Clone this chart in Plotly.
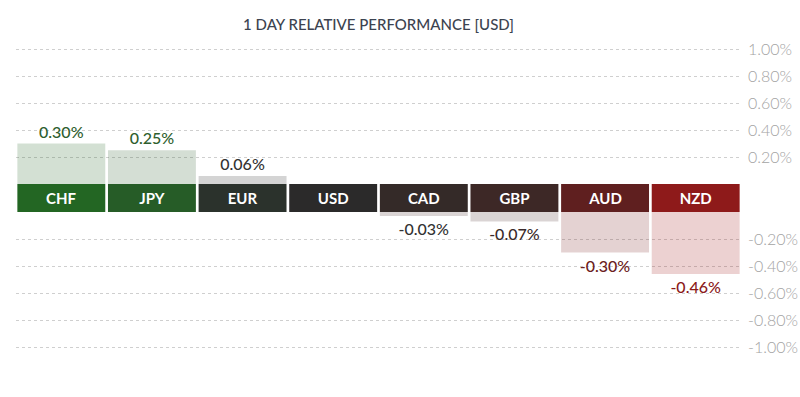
import plotly.graph_objects as go

currencies = ["CHF", "JPY", "EUR", "USD", "CAD", "GBP", "AUD", "NZD"]
changes = [0.30, 0.25, 0.06, 0.00, -0.03, -0.07, -0.30, -0.46]
value_labels = ["0.30%", "0.25%", "0.06%", "", "-0.03%", "-0.07%", "-0.30%", "-0.46%"]
band_colors = ["#236623", "#265c27", "#2b322c", "#2b2a2a", "#342a28", "#3d2826", "#5f1f1f", "#8e1a1a"]
bar_colors = ["rgba(35,102,35,0.2)", "rgba(38,92,39,0.2)", "rgba(60,60,60,0.22)", "rgba(43,42,42,0.2)",
              "rgba(70,40,40,0.2)", "rgba(70,40,38,0.2)", "rgba(120,30,30,0.2)", "rgba(160,26,26,0.2)"]
label_colors = ["#2e5e2e", "#2e5e2e", "#333333", "#333333", "#333333", "#3a2a2a", "#6b2020", "#8b1a1a"]
pos_ticks = [0.2, 0.4, 0.6, 0.8, 1.0]
pos_tick_text = ["0.20%", "0.40%", "0.60%", "0.80%", "1.00%"]
neg_ticks = [-0.2, -0.4, -0.6, -0.8, -1.0]
neg_tick_text = ["-0.20%", "-0.40%", "-0.60%", "-0.80%", "-1.00%"]

pos_vals = [v if v > 0 else 0 for v in changes]
neg_vals = [v if v < 0 else 0 for v in changes]
pos_text = [t if v > 0 else "" for v, t in zip(changes, value_labels)]
neg_text = [t if v < 0 else "" for v, t in zip(changes, value_labels)]

W, H = 800, 397
ml, mr, mt, mb = 16, 59, 46, 47
ph = H - mt - mb
zero_top = 184
zero_bot = 212
d_top = (H - mb - zero_top) / ph
d_bot = (H - mb - zero_bot) / ph
# pixels per 1.00% on each half is 135; extra room so edge gridlines show
top_max = (zero_top - mt) / 135
bot_min = -(H - mb - zero_bot) / 135

fig = go.Figure()
fig.add_trace(go.Bar(
    x=currencies, y=pos_vals, yaxis="y", marker=dict(color=bar_colors, line=dict(width=0)),
    text=pos_text, textposition="outside", cliponaxis=False,
    textfont=dict(family="Lato", size=16, color=label_colors, weight=500), hoverinfo="skip"))
fig.add_trace(go.Bar(
    x=currencies, y=[1] * len(currencies), yaxis="y2", marker=dict(color=band_colors, line=dict(width=0)),
    text=currencies, textposition="inside", insidetextanchor="middle", constraintext="none",
    textfont=dict(family="Lato", size=15, color="white", weight="bold"), hoverinfo="skip"))
fig.add_trace(go.Bar(
    x=currencies, y=neg_vals, yaxis="y3", marker=dict(color=bar_colors, line=dict(width=0)),
    text=neg_text, textposition="outside", cliponaxis=False,
    textfont=dict(family="Lato", size=16, color=label_colors, weight=500), hoverinfo="skip"))

grid = dict(showgrid=True, gridcolor="#cfcfcf", griddash="dot", gridwidth=1, zeroline=False,
            side="right", anchor="x", ticks="", ticklabelstandoff=6, automargin=False,
            tickfont=dict(family="Lato", size=16, color="#a3a3a3", weight=300))

fig.update_layout(
    width=W, height=H,
    margin=dict(l=ml, r=mr, t=mt, b=mb, pad=0, autoexpand=False),
    paper_bgcolor="white", plot_bgcolor="white",
    showlegend=False, bargap=0.03,
    title=dict(text="1 DAY RELATIVE PERFORMANCE [USD]", x=0.5, xref="paper", xanchor="center",
               y=1 - 25 / H, yref="container", yanchor="middle", automargin=False,
               font=dict(family="Lato", size=15, color="#3c4350", weight=500)),
    xaxis=dict(visible=False, anchor="y3", automargin=False, range=[-0.5, len(currencies) - 0.5]),
    yaxis=dict(domain=[d_top, 1], range=[0, top_max], tickvals=pos_ticks, ticktext=pos_tick_text, **grid),
    yaxis2=dict(domain=[d_bot, d_top], range=[0, 1], visible=False, anchor="x"),
    yaxis3=dict(domain=[0, d_bot], range=[bot_min, 0], tickvals=neg_ticks, ticktext=neg_tick_text, **grid),
)

fig.write_html("out.html", config={"displayModeBar": False, "staticPlot": True},
               post_script="document.body.style.margin='0';document.body.style.overflow='hidden';")
